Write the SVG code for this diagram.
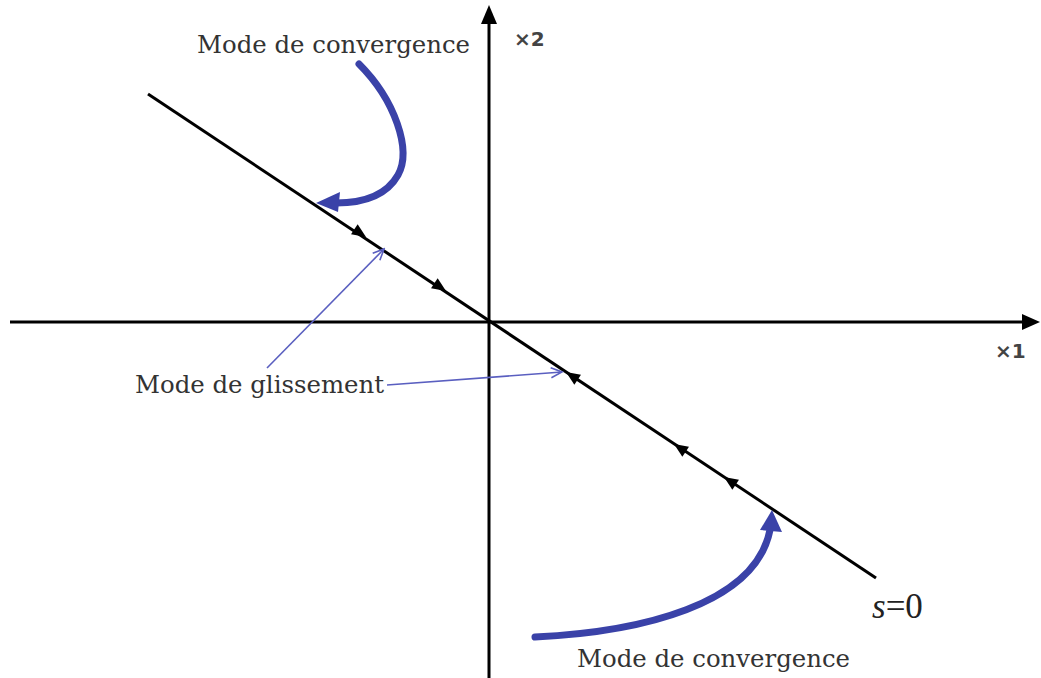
<svg xmlns="http://www.w3.org/2000/svg" width="1041" height="678" viewBox="0 0 1041 678">
<style>
.ax{stroke:#000;stroke-width:3;fill:none}
.ln{stroke:#000;stroke-width:3;fill:none}
.big{stroke:#3a42a8;stroke-width:7;fill:none;stroke-linecap:round}
.thin{stroke:#5a5fc0;stroke-width:1.6;fill:none}
.lbl{font-family:"DejaVu Serif",serif;font-size:24.4px;fill:#333}
.axl{font-family:"DejaVu Sans",sans-serif;font-size:20px;font-weight:bold;fill:#444}
</style>
<defs>
<marker id="thinHead" markerWidth="14" markerHeight="12" refX="12" refY="6" orient="auto" markerUnits="userSpaceOnUse">
<path d="M1,1 L12,6 L1,11" fill="none" stroke="#5a5fc0" stroke-width="1.6"/>
</marker>
</defs>
<g id="axes">
<line class="ax" x1="10" y1="322" x2="1026" y2="322"/>
<polygon points="1040,322 1022,314 1022,330" fill="#000"/>
<line class="ax" x1="489" y1="678" x2="489" y2="20"/>
<polygon points="489,5 481,24 497,24" fill="#000"/>
<text class="axl" x="514" y="46">×2</text>
<text class="axl" x="995" y="358">×1</text>
</g>
<g id="surface">
<line class="ln" x1="148" y1="94" x2="876" y2="578"/>
<g fill="#000">
<polygon points="0,0 -14,-6 -14,6" transform="translate(366,237) rotate(33.6)"/>
<polygon points="0,0 -14,-6 -14,6" transform="translate(446,291) rotate(33.6)"/>
<polygon points="0,0 -14,-6 -14,6" transform="translate(566,372) rotate(213.6)"/>
<polygon points="0,0 -14,-6 -14,6" transform="translate(674,444) rotate(213.6)"/>
<polygon points="0,0 -14,-6 -14,6" transform="translate(724,477) rotate(213.6)"/>
</g>
<text x="872" y="618" font-family="Liberation Serif,serif" font-size="35" fill="#222"><tspan font-style="italic">s</tspan>=0</text>
</g>
<g id="connectors">
<path class="big" d="M359,64 C395,100 412,150 398,175 C385,198 360,203 336,203"/>
<polygon points="316,203 340,192 338,212" fill="#3a42a8"/>
<path class="big" d="M535,637 C640,632 755,605 770,530"/>
<polygon points="772,510 760,530 782,532" fill="#3a42a8"/>
<line class="thin" x1="267" y1="368" x2="384" y2="249" marker-end="url(#thinHead)"/>
<path class="thin" d="M387,385 L562,372" marker-end="url(#thinHead)"/>
</g>
<g id="labels">
<text class="lbl" x="197" y="53">Mode de convergence</text>
<text class="lbl" x="135" y="393">Mode de glissement</text>
<text class="lbl" x="577" y="667">Mode de convergence</text>
</g>
</svg>
